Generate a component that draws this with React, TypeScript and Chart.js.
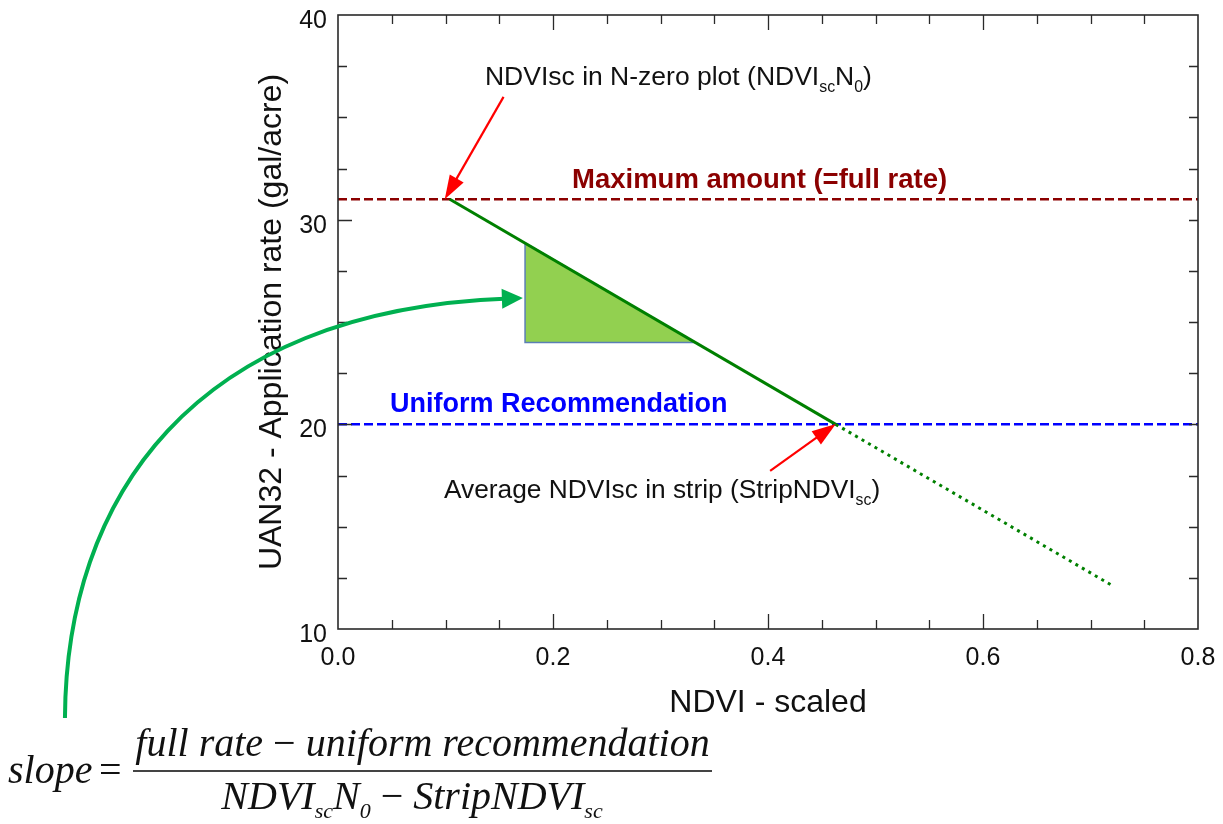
import React, { useEffect, useRef } from 'react';
import { Chart, registerables } from 'chart.js';

Chart.register(...registerables);

// ---------- data ----------
const X_MIN = 0;
const X_MAX = 0.8;
const Y_MIN = 10;
const Y_MAX = 40;
const X_TICK_STEP = 0.05;
const Y_TICK_STEP = 2.5;
const X_MAJOR_TICKS = [0, 0.2, 0.4, 0.6, 0.8];
const X_MAJOR_LABELS = ['0.0', '0.2', '0.4', '0.6', '0.8'];
const Y_MAJOR_TICKS = [10, 20, 30, 40];
const Y_MAJOR_LABELS = ['10', '20', '30', '40'];

const FULL_RATE = 31;
const UNIFORM_RATE = 20;
const NDVI_N0 = 0.104;
const STRIP_NDVI = 0.463;
const EXTENDED_NDVI = 0.721;
const EXTENDED_RATE = 12.1;

const TRIANGLE_X = [0.174, 0.174, 0.3325, 0.174];
const TRIANGLE_Y = [28.86, 24, 24, 28.86];

const ARROW_N0_X = [0.154, 0.0993];
const ARROW_N0_Y = [36.0, 31.0];
const ARROW_STRIP_X = [0.402, 0.4631];
const ARROW_STRIP_Y = [17.73, 20.02];

const CURVE_X = [-0.254, -0.253, -0.1377, 0.172];
const CURVE_Y = [5.65, 16.3, 25.59, 26.17];

const LABEL_N0_POS = [0.1367, 36.58];
const LABEL_MAX_POS = [0.2177, 31.55];
const LABEL_UNIFORM_POS = [0.0484, 20.6];
const LABEL_STRIP_POS = [0.0986, 16.4];

const X_TITLE = 'NDVI - scaled';
const Y_TITLE = 'UAN32 - Application rate (gal/acre)';

// ---------- helpers ----------
type Run = { t: string; sub?: boolean; upright?: boolean };

const SANS = '"Liberation Sans", Arial, sans-serif';
const SERIF = '"Liberation Serif", "Times New Roman", serif';

function runFont(r: Run, size: number, family: string, italic: boolean, bold: boolean, subScale: number) {
  const s = r.sub ? size * subScale : size;
  const it = italic && !r.upright ? 'italic ' : '';
  const b = bold ? 'bold ' : '';
  return `${it}${b}${s}px ${family}`;
}

function runsWidth(ctx: CanvasRenderingContext2D, runs: Run[], size: number, family: string, italic: boolean, bold: boolean, subScale: number) {
  let w = 0;
  for (const r of runs) {
    ctx.font = runFont(r, size, family, italic, bold, subScale);
    w += ctx.measureText(r.t).width;
  }
  return w;
}

function drawRuns(
  ctx: CanvasRenderingContext2D,
  runs: Run[],
  x: number,
  y: number,
  size: number,
  family: string,
  color: string,
  opts: { italic?: boolean; bold?: boolean; align?: 'left' | 'center'; subScale?: number; subDrop?: number } = {}
) {
  const italic = !!opts.italic;
  const bold = !!opts.bold;
  const subScale = opts.subScale ?? 0.6;
  const subDrop = opts.subDrop ?? 0.25;
  let cx = x;
  if (opts.align === 'center') cx = x - runsWidth(ctx, runs, size, family, italic, bold, subScale) / 2;
  ctx.save();
  ctx.fillStyle = color;
  ctx.textAlign = 'left';
  ctx.textBaseline = 'alphabetic';
  for (const r of runs) {
    ctx.font = runFont(r, size, family, italic, bold, subScale);
    const dy = r.sub ? size * subDrop : 0;
    ctx.fillText(r.t, cx, y + dy);
    cx += ctx.measureText(r.t).width;
  }
  ctx.restore();
}

function arrowHead(ctx: CanvasRenderingContext2D, fx: number, fy: number, tx: number, ty: number, len: number, wid: number, color: string) {
  const a = Math.atan2(ty - fy, tx - fx);
  const bx = tx - len * Math.cos(a);
  const by = ty - len * Math.sin(a);
  const nx = -Math.sin(a) * (wid / 2);
  const ny = Math.cos(a) * (wid / 2);
  ctx.save();
  ctx.fillStyle = color;
  ctx.beginPath();
  ctx.moveTo(tx, ty);
  ctx.lineTo(bx + nx, by + ny);
  ctx.lineTo(bx - nx, by - ny);
  ctx.closePath();
  ctx.fill();
  ctx.restore();
}

function straightArrow(ctx: CanvasRenderingContext2D, x1: number, y1: number, x2: number, y2: number, color: string, width: number, len: number, wid: number) {
  const a = Math.atan2(y2 - y1, x2 - x1);
  ctx.save();
  ctx.strokeStyle = color;
  ctx.lineWidth = width;
  ctx.beginPath();
  ctx.moveTo(x1, y1);
  ctx.lineTo(x2 - (len - 2) * Math.cos(a), y2 - (len - 2) * Math.sin(a));
  ctx.stroke();
  ctx.restore();
  arrowHead(ctx, x1, y1, x2, y2, len, wid, color);
}

const isMajor = (v: number, majors: number[]) => majors.findIndex((m) => Math.abs(m - v) < 1e-6);

const decorPlugin = {
  id: 'decor',
  afterDraw(chart: any) {
    const ctx: CanvasRenderingContext2D = chart.ctx;
    const xs = chart.scales.x;
    const ys = chart.scales.y;
    const { left, right, top, bottom } = chart.chartArea;
    const px = (v: number) => xs.getPixelForValue(v);
    const py = (v: number) => ys.getPixelForValue(v);

    // frame + inward ticks
    ctx.save();
    ctx.strokeStyle = '#2a2a2a';
    ctx.lineWidth = 1.6;
    ctx.strokeRect(left, top, right - left, bottom - top);
    ctx.beginPath();
    for (const t of xs.ticks) {
      const v = t.value;
      if (v <= X_MIN + 1e-9 || v >= X_MAX - 1e-9) continue;
      const major = isMajor(v, X_MAJOR_TICKS) >= 0;
      const len = major ? 15 : 9;
      const p = Math.round(px(v)) + 0.5;
      ctx.moveTo(p, bottom);
      ctx.lineTo(p, bottom - len);
      ctx.moveTo(p, top);
      ctx.lineTo(p, top + len);
    }
    for (const t of ys.ticks) {
      const v = t.value;
      if (v <= Y_MIN + 1e-9 || v >= Y_MAX - 1e-9) continue;
      const major = isMajor(v, Y_MAJOR_TICKS) >= 0;
      const len = major ? 14 : 9;
      const p = Math.round(py(v)) + 0.5;
      ctx.moveTo(left, p);
      ctx.lineTo(left + len, p);
      ctx.moveTo(right, p);
      ctx.lineTo(right - 9, p);
    }
    ctx.lineWidth = 1.3;
    ctx.stroke();
    ctx.restore();

    // tick labels
    ctx.save();
    ctx.fillStyle = '#111';
    ctx.font = `25px ${SANS}`;
    ctx.textBaseline = 'alphabetic';
    ctx.textAlign = 'center';
    X_MAJOR_TICKS.forEach((v, i) => ctx.fillText(X_MAJOR_LABELS[i], px(v), bottom + 36));
    ctx.textAlign = 'right';
    Y_MAJOR_TICKS.forEach((v, i) => ctx.fillText(Y_MAJOR_LABELS[i], left - 11, py(v) + 13));
    ctx.restore();

    // axis titles
    ctx.save();
    ctx.fillStyle = '#111';
    ctx.font = `32px ${SANS}`;
    ctx.textAlign = 'center';
    ctx.textBaseline = 'alphabetic';
    ctx.fillText(X_TITLE, (left + right) / 2, bottom + 83);
    ctx.translate(left - 57, (top + bottom) / 2);
    ctx.rotate(-Math.PI / 2);
    ctx.fillText(Y_TITLE, 0, 0);
    ctx.restore();

    // annotations
    drawRuns(
      ctx,
      [{ t: 'NDVIsc in N-zero plot (NDVI' }, { t: 'sc', sub: true }, { t: 'N' }, { t: '0', sub: true }, { t: ')' }],
      px(LABEL_N0_POS[0]),
      py(LABEL_N0_POS[1]),
      26.5,
      SANS,
      '#111'
    );
    drawRuns(ctx, [{ t: 'Maximum amount (=full rate)' }], px(LABEL_MAX_POS[0]), py(LABEL_MAX_POS[1]), 27.5, SANS, '#8B0000', { bold: true });
    drawRuns(ctx, [{ t: 'Uniform Recommendation' }], px(LABEL_UNIFORM_POS[0]), py(LABEL_UNIFORM_POS[1]), 27, SANS, '#0000FF', { bold: true });
    drawRuns(
      ctx,
      [{ t: 'Average NDVIsc in strip (StripNDVI' }, { t: 'sc', sub: true }, { t: ')' }],
      px(LABEL_STRIP_POS[0]),
      py(LABEL_STRIP_POS[1]),
      26.3,
      SANS,
      '#111'
    );

    // red arrows
    straightArrow(ctx, px(ARROW_N0_X[0]), py(ARROW_N0_Y[0]), px(ARROW_N0_X[1]), py(ARROW_N0_Y[1]), '#FF0000', 2.2, 24, 16);
    straightArrow(ctx, px(ARROW_STRIP_X[0]), py(ARROW_STRIP_Y[0]), px(ARROW_STRIP_X[1]), py(ARROW_STRIP_Y[1]), '#FF0000', 2.2, 24, 16);

    // green curved arrow
    const cx = CURVE_X.map(px);
    const cy = CURVE_Y.map(py);
    ctx.save();
    ctx.strokeStyle = '#00B050';
    ctx.lineWidth = 4;
    ctx.lineCap = 'butt';
    ctx.beginPath();
    ctx.moveTo(cx[0], cy[0]);
    ctx.bezierCurveTo(cx[1], cy[1], cx[2], cy[2], cx[3] - 14, cy[3] + 0.5);
    ctx.stroke();
    ctx.restore();
    arrowHead(ctx, cx[2], cy[2], cx[3], cy[3], 21, 20, '#00B050');

    // slope formula
    const f = 40;
    ctx.save();
    drawRuns(ctx, [{ t: 'slope' }], 8, 783, f, SERIF, '#111', { italic: true });
    drawRuns(ctx, [{ t: '=', upright: true }], 99, 783, f, SERIF, '#111', { italic: true });
    ctx.strokeStyle = '#444';
    ctx.lineWidth = 2;
    ctx.beginPath();
    ctx.moveTo(133, 771);
    ctx.lineTo(712, 771);
    ctx.stroke();
    drawRuns(
      ctx,
      [{ t: 'full rate' }, { t: ' \u2212 ', upright: true }, { t: 'uniform recommendation' }],
      (133 + 712) / 2,
      756,
      f,
      SERIF,
      '#111',
      { italic: true, align: 'center' }
    );
    drawRuns(
      ctx,
      [
        { t: 'NDVI' },
        { t: 'sc', sub: true },
        { t: 'N' },
        { t: '0', sub: true },
        { t: ' \u2212 ', upright: true },
        { t: 'StripNDVI' },
        { t: 'sc', sub: true },
      ],
      412,
      809,
      f,
      SERIF,
      '#111',
      { italic: true, align: 'center', subScale: 0.55, subDrop: 0.22 }
    );
    ctx.restore();
  },
};

function xyPoints(xsArr: number[], ysArr: number[]) {
  return xsArr.map((x, i) => ({ x, y: ysArr[i] }));
}

export default function App() {
  const ref = useRef<HTMLCanvasElement | null>(null);

  useEffect(() => {
    if (!ref.current) return;
    const chart = new Chart(ref.current, {
      type: 'scatter',
      data: {
        datasets: [
          {
            label: 'Variable rate',
            data: xyPoints([NDVI_N0, STRIP_NDVI], [FULL_RATE, UNIFORM_RATE]),
            showLine: true,
            borderColor: '#008000',
            borderWidth: 3,
            pointRadius: 0,
            fill: false,
          },
          {
            label: 'Extension',
            data: xyPoints([STRIP_NDVI, EXTENDED_NDVI], [UNIFORM_RATE, EXTENDED_RATE]),
            showLine: true,
            borderColor: '#008000',
            borderWidth: 3,
            borderDash: [3, 4.5],
            pointRadius: 0,
            fill: false,
          },
          {
            label: 'Slope triangle',
            data: xyPoints(TRIANGLE_X, TRIANGLE_Y),
            showLine: true,
            borderColor: '#5B7FB5',
            borderWidth: 1.5,
            backgroundColor: '#92D050',
            fill: 'shape',
            pointRadius: 0,
          },
          {
            label: 'Maximum amount',
            data: xyPoints([X_MIN, X_MAX], [FULL_RATE, FULL_RATE]),
            showLine: true,
            borderColor: '#8B0000',
            borderWidth: 2.5,
            borderDash: [9, 4],
            pointRadius: 0,
            fill: false,
          },
          {
            label: 'Uniform recommendation',
            data: xyPoints([X_MIN, X_MAX], [UNIFORM_RATE, UNIFORM_RATE]),
            showLine: true,
            borderColor: '#0000FF',
            borderWidth: 2.5,
            borderDash: [9, 4],
            pointRadius: 0,
            fill: false,
          },
        ],
      },
      options: {
        animation: false,
        responsive: false,
        devicePixelRatio: 1,
        layout: { padding: { left: 0, top: 15, right: 25, bottom: 0 } },
        plugins: { legend: { display: false }, tooltip: { enabled: false }, title: { display: false } },
        scales: {
          x: {
            type: 'linear',
            min: X_MIN,
            max: X_MAX,
            afterFit: (s: any) => {
              s.height = 195;
            },
            afterBuildTicks: (s: any) => {
              const arr = [];
              const n = Math.round((X_MAX - X_MIN) / X_TICK_STEP);
              for (let i = 0; i <= n; i++) arr.push({ value: +(X_MIN + i * X_TICK_STEP).toFixed(4) });
              s.ticks = arr;
            },
            ticks: { display: false },
            grid: { display: false, drawTicks: false },
            border: { display: false },
          },
          y: {
            type: 'linear',
            min: Y_MIN,
            max: Y_MAX,
            afterFit: (s: any) => {
              s.width = 338;
            },
            afterBuildTicks: (s: any) => {
              const arr = [];
              const n = Math.round((Y_MAX - Y_MIN) / Y_TICK_STEP);
              for (let i = 0; i <= n; i++) arr.push({ value: Y_MIN + i * Y_TICK_STEP });
              s.ticks = arr;
            },
            ticks: { display: false },
            grid: { display: false, drawTicks: false },
            border: { display: false },
          },
        },
      },
      plugins: [decorPlugin],
    });
    return () => chart.destroy();
  }, []);

  return (
    <div style={{ position: 'fixed', left: 0, top: 0, width: 1223, height: 824, background: '#fff' }}>
      <canvas ref={ref} width={1223} height={824} style={{ width: 1223, height: 824, display: 'block' }} />
    </div>
  );
}
